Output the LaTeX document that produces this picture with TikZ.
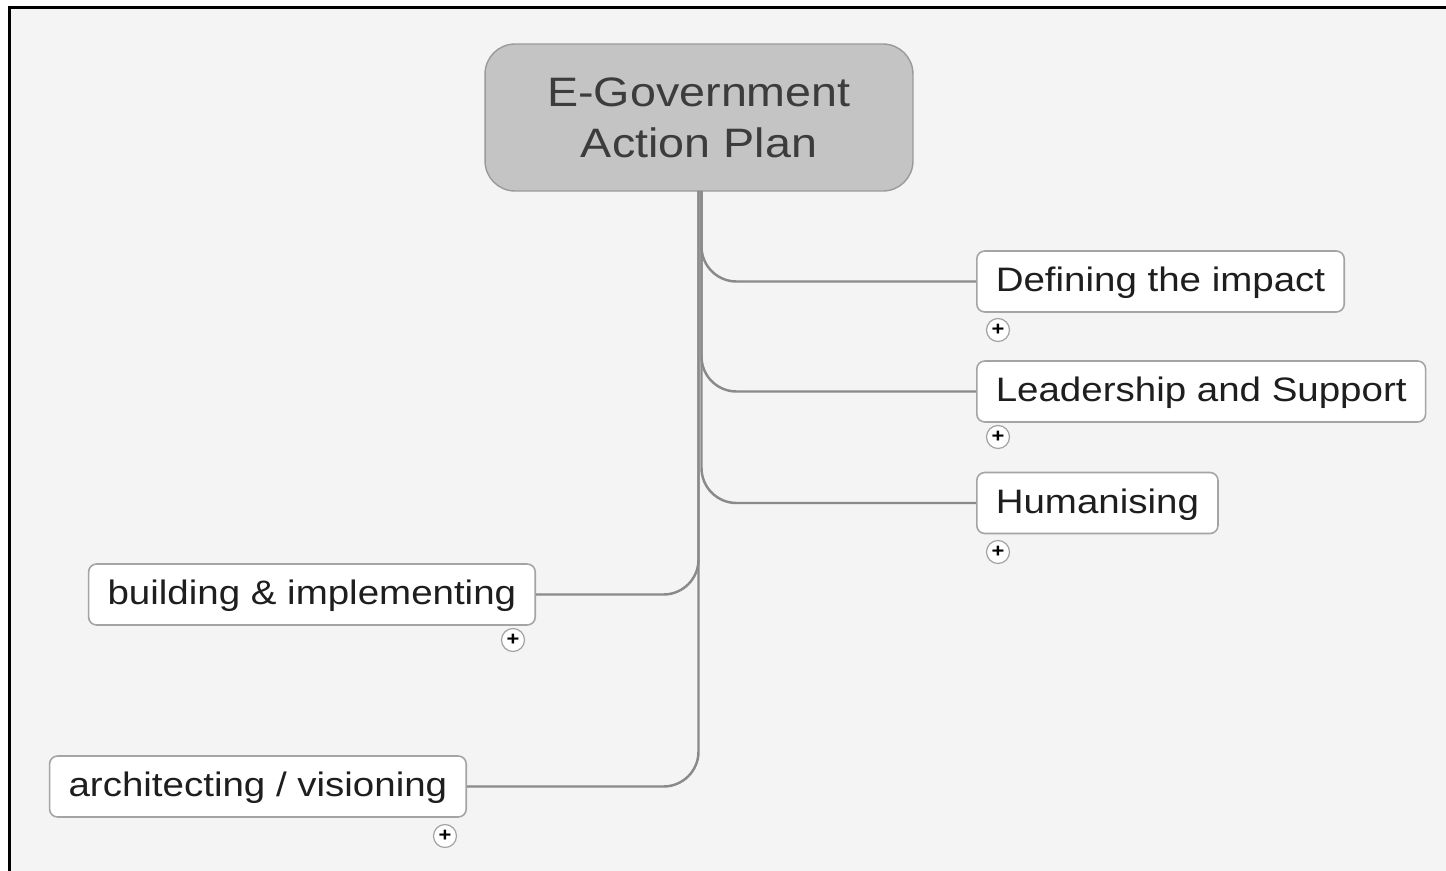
\documentclass[tikz,border=0pt]{standalone}
\usepackage{fontspec}
\setmainfont{Liberation Sans}[FakeStretch=1.135]
\definecolor{bgcol}{HTML}{F4F4F4}
\definecolor{rootfill}{HTML}{C4C4C4}
\definecolor{rootline}{HTML}{9A9A9A}
\definecolor{roottext}{HTML}{3C3C3C}
\definecolor{boxline}{HTML}{A4A4A4}
\definecolor{branchcol}{HTML}{8A8A8A}
\definecolor{textcol}{HTML}{1E1E1E}
\begin{document}
\begin{tikzpicture}
  [x=0.02cm,y=-0.02cm,
   root/.style={rectangle,rounded corners=0.6cm,draw=rootline,fill=rootfill,line width=0.8pt,minimum width=8.56cm,minimum height=2.94cm,align=center,text=roottext,font=\fontsize{23.4}{28.9}\selectfont},
   topic/.style={rectangle,rounded corners=0.16cm,draw=boxline,fill=white,line width=0.9pt,minimum height=1.22cm,inner xsep=0.38cm,text=textcol,font=\fontsize{19.3}{23}\selectfont,text height=15.5pt,text depth=3.6pt},
   plus/.style={circle,draw=boxline,fill=white,line width=0.7pt,minimum size=0.46cm,inner sep=0pt,font=\fontsize{11}{11}\selectfont\bfseries},
   branch/.style={draw=branchcol,line width=1.4pt,rounded corners=0.7cm}]
  \useasboundingbox (0,0) rectangle (1446,871);
  \fill[white] (0,0) rectangle (1446,871);
  \fill[bgcol] (8,6) rectangle (1446,871);
  \draw[line width=1.7pt] (9.5,871) -- (9.5,7.5) -- (1446,7.5);

  \node[root] (root) at (699,117.5) {E-Government\\Action Plan};
  \node[topic,anchor=west] (def) at (976,281.5) {Defining the impact};
  \node[topic,anchor=west] (lead) at (976,391.5) {Leadership and Support};
  \node[topic,anchor=west] (hum) at (976,503) {Humanising};
  \node[topic,anchor=east] (bld) at (536,594.5) {building \& implementing};
  \node[topic,anchor=east] (arch) at (467,786.5) {architecting / visioning};

  \node[plus] (p1) at (998,330) {+};
  \node[plus] (p2) at (998,437) {+};
  \node[plus] (p3) at (998,552) {+};
  \node[plus] (p4) at (513,640) {+};
  \node[plus] (p5) at (445,836) {+};

  \coordinate (tr) at (701.5,191);
  \coordinate (tl) at (698.5,191);
  \draw[branch] (tr) |- (def.west);
  \draw[branch] (tr) |- (lead.west);
  \draw[branch] (tr) |- (hum.west);
  \draw[branch] (tl) |- (bld.east);
  \draw[branch] (tl) |- (arch.east);
\end{tikzpicture}
\end{document}
